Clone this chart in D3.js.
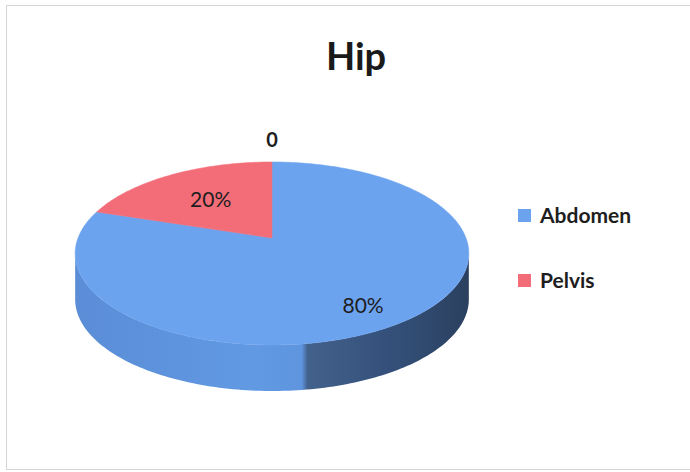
<!DOCTYPE html>
<html>
<head>
<meta charset="utf-8">
<script src="https://cdn.jsdelivr.net/npm/d3@7"></script>
<style>
  body { margin: 0; background: #fff; }
  svg { display: block; font-family: Lato, 'Open Sans', sans-serif; }
</style>
</head>
<body>
<div id="chart"></div>
<script>
const title = 'Hip';
const categories = ['Abdomen', 'Pelvis'];
const values = [80, 20];
const valueLabels = ['80%', '20%'];
const zeroLabel = '0';
const topColors = ['#6ca3ef', '#f26d78'];

const width = 690;
const height = 472;

const svg = d3.select('#chart').append('svg')
  .attr('width', width)
  .attr('height', height);

// chart frame
svg.append('rect')
  .attr('x', 6.5)
  .attr('y', 5.5)
  .attr('width', width + 10)
  .attr('height', 464)
  .attr('fill', '#fff')
  .attr('stroke', '#d6d6d6');

svg.append('text')
  .attr('x', 356)
  .attr('y', 70)
  .attr('text-anchor', 'middle')
  .attr('font-size', 38)
  .attr('font-weight', 'bold')
  .attr('fill', '#1a1a1a')
  .text(title);

// perspective projection of the unit disc
const cx = 272;
const cy = 238;
const rxScale = d3.scaleLinear().domain([-1, 1]).range([-194, 194]);
const ryScale = d3.scaleLinear().domain([-1, 1]).range([-88.9, 88.9]);
const persp = 0.169;
const depth = 46;

const project = function project(angle, r, dy = 0) {
  const u = Math.sin(angle) * r;
  const v = -Math.cos(angle) * r;
  const k = 1 / (1 - persp * v);
  return [cx + rxScale(u) * k, cy + ryScale(v) * k + dy];
};

const arcPoints = function arcPoints(a0, a1, dy) {
  const n = Math.max(2, Math.ceil(Math.abs(a1 - a0) / 0.02));
  return d3.range(n + 1).map(i => project(a0 + ((a1 - a0) * i) / n, 1, dy));
};

const pie = d3.pie().sort(null).startAngle(0).endAngle(2 * Math.PI);
const arcs = pie(values);

const defs = svg.append('defs');
const grad = defs.append('linearGradient')
  .attr('id', 'side')
  .attr('gradientUnits', 'userSpaceOnUse')
  .attr('x1', cx + rxScale(-1.02))
  .attr('x2', cx + rxScale(1.02))
  .attr('y1', 0)
  .attr('y2', 0);
[[0, '#5a8dd6'], [0.45, '#6199e3'], [0.575, '#5f95df'], [0.59, '#42618b'], [0.8, '#34507a'], [1, '#2b405f']]
  .forEach(([o, c]) => grad.append('stop').attr('offset', o).attr('stop-color', c));

const line = d3.line();
const g = svg.append('g');

// front wall: between the leftmost and rightmost points of the rim
const sideStart = Math.PI - Math.acos(persp);
const sideEnd = Math.PI + Math.acos(persp);
arcs.forEach((d) => {
  const a0 = Math.max(d.startAngle, sideStart);
  const a1 = Math.min(d.endAngle, sideEnd);
  if (a1 <= a0) return;
  const pts = arcPoints(a0, a1, 0).concat(arcPoints(a1, a0, depth));
  g.append('path')
    .attr('d', `${line(pts)}Z`)
    .attr('fill', 'url(#side)');
});

// top faces
arcs.forEach((d, i) => {
  const pts = [project(0, 0)].concat(arcPoints(d.startAngle, d.endAngle, 0));
  g.append('path')
    .attr('d', `${line(pts)}Z`)
    .attr('fill', topColors[i])
    .attr('stroke', topColors[i])
    .attr('stroke-width', 0.5);
});

// data labels
arcs.forEach((d, i) => {
  const mid = (d.startAngle + d.endAngle) / 2;
  const big = d.endAngle - d.startAngle > Math.PI;
  const [x, y] = big ? project(mid, 0.72, 10) : project(mid, 0.58);
  g.append('text')
    .attr('x', x)
    .attr('y', y)
    .attr('dy', '0.36em')
    .attr('text-anchor', 'middle')
    .attr('font-size', 21)
    .attr('fill', '#1e1e1e')
    .text(valueLabels[i]);
});

const [zx, zy] = project(0, 1.35);
g.append('text')
  .attr('x', zx)
  .attr('y', zy)
  .attr('dy', '0.36em')
  .attr('text-anchor', 'middle')
  .attr('font-size', 20)
  .attr('font-weight', 'bold')
  .attr('fill', '#1e1e1e')
  .text(zeroLabel);

// legend
const legend = svg.append('g')
  .attr('transform', 'translate(518,209)');
const item = legend.selectAll('g')
  .data(categories)
  .enter()
  .append('g')
  .attr('transform', (d, i) => `translate(0,${i * 65})`);
item.append('rect')
  .attr('width', 13)
  .attr('height', 13)
  .attr('fill', (d, i) => topColors[i]);
item.append('text')
  .attr('x', 22)
  .attr('y', 14)
  .attr('font-size', 21)
  .attr('font-weight', 'bold')
  .attr('fill', '#1e1e1e')
  .text(d => d);
</script>
</body>
</html>
